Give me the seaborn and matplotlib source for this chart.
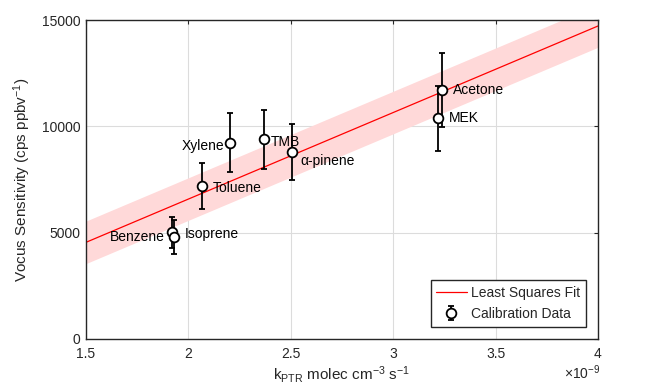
import numpy as np
import pandas as pd
import matplotlib
matplotlib.use("Agg")
import matplotlib.pyplot as plt
import seaborn as sns

# ---- data (x in units of 1e-9) ----
compounds = ["Benzene", "Isoprene", "Toluene", "Xylene", "TMB", "α-pinene", "MEK", "Acetone"]
k_ptr = [1.922, 1.931, 2.065, 2.205, 2.371, 2.505, 3.218, 3.238]
sensitivity = [5017, 4810, 7194, 9231, 9391, 8809, 10377, 11708]
sens_err = [740, 790, 1070, 1390, 1390, 1310, 1540, 1760]

fit_x = [1.5, 4.0]
fit_y = [4546, 14718]
fit_band = 1000

# label placement (pixel offsets, alignment)
label_dx = [-8, 10, 11, -6, 6, 9, 11, 11]
label_dy = [-5, 3, -2, -3, -3, -9, 0, 0]
label_ha = ["right", "left", "left", "right", "left", "left", "left", "left"]

sns.set_theme(style="white")
plt.rcParams["font.family"] = ["Liberation Sans", "DejaVu Sans"]
plt.rcParams["mathtext.fontset"] = "custom"
plt.rcParams["mathtext.rm"] = "Liberation Sans"
plt.rcParams["mathtext.it"] = "Liberation Sans:italic"

fig = plt.figure(figsize=(6.49, 3.90), dpi=100)
ax = fig.add_axes([86 / 649, 51 / 390, 512 / 649, 319 / 390])

df_fit = pd.DataFrame({"x": fit_x, "y": fit_y})
lo = np.array(fit_y) - fit_band
hi = np.array(fit_y) + fit_band
ax.fill_between(fit_x, lo, hi, color="#ffd9d9", linewidth=0, zorder=1)
sns.lineplot(data=df_fit, x="x", y="y", color="red", linewidth=0.9, ax=ax,
             label="Least Squares Fit", zorder=2)

ax.errorbar(k_ptr, sensitivity, yerr=sens_err, fmt="o", color="black",
            markerfacecolor="white", markeredgecolor="black", markersize=7,
            markeredgewidth=1.3, elinewidth=1.3, capsize=2.3, capthick=1.3,
            label="Calibration Data", zorder=3)

for name, x, y, dx, dy, ha in zip(compounds, k_ptr, sensitivity, label_dx, label_dy, label_ha):
    ax.annotate(name, (x, y), xytext=(dx, dy), textcoords="offset pixels",
                ha=ha, va="center", fontsize=10, color="black", zorder=4)

ax.set_xlim(1.5, 4.0)
ax.set_ylim(0, 15000)
ax.set_xticks([1.5, 2, 2.5, 3, 3.5, 4])
ax.set_xticklabels(["1.5", "2", "2.5", "3", "3.5", "4"])
ax.set_yticks([0, 5000, 10000, 15000])
ax.set_yticklabels(["0", "5000", "10000", "15000"])
ax.grid(True, color="#dcdcdc", linewidth=0.8)
ax.set_axisbelow(True)
ax.tick_params(direction="in", length=3, width=0.8, top=True, right=True,
               labelsize=10, colors="#262626", pad=4)
ax.tick_params(axis="x", pad=6)
for s in ax.spines.values():
    s.set_color("#262626")
    s.set_linewidth(1.0)

ax.set_xlabel(r"k$_{\mathrm{PTR}}$ molec cm$^{-3}$ s$^{-1}$", fontsize=11, color="#262626", labelpad=2)
ax.set_ylabel(r"Vocus Sensitivity (cps ppbv$^{-1}$)", fontsize=11, color="#262626", labelpad=6)

fig.text(600 / 649, 1 - 379 / 390, r"$\times$10$^{-9}$", ha="right", va="baseline",
         fontsize=10, color="#262626")

leg = ax.legend(loc="lower right", fontsize=10, frameon=True, fancybox=False,
                borderaxespad=0.9, handlelength=2.2, handletextpad=0.3,
                borderpad=0.4, labelspacing=0.5)
leg.get_frame().set_edgecolor("#262626")
leg.get_frame().set_linewidth(1.0)
leg.get_frame().set_alpha(1)

fig.savefig("out.png", dpi=100)
